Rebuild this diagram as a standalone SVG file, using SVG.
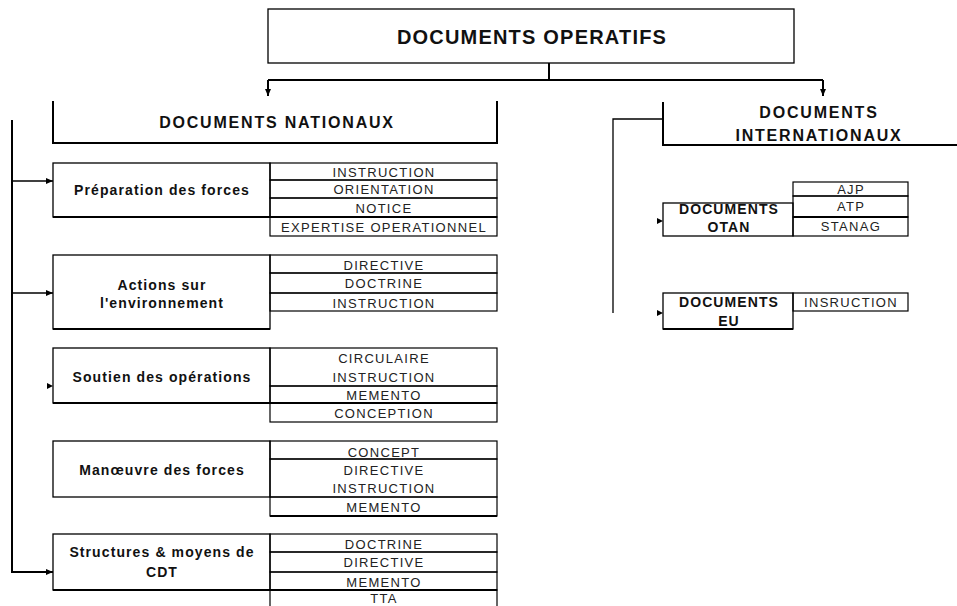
<svg xmlns="http://www.w3.org/2000/svg" width="957" height="606" viewBox="0 0 957 606">
<style>
.box{fill:#fff;stroke:#000;stroke-width:1.3}
.cell{fill:none;stroke:#000;stroke-width:1.2}
.thick{stroke:#000;stroke-width:2;fill:none}
.ln{stroke:#000;stroke-width:1.3;fill:none}
.lbl{font-family:"Liberation Sans",Arial,sans-serif;font-weight:bold;font-size:14px;letter-spacing:1.1px;text-anchor:middle;fill:#111}
.itm{font-family:"Liberation Sans",Arial,sans-serif;font-size:13px;letter-spacing:1.3px;text-anchor:middle;fill:#222}
.hd{font-family:"Liberation Sans",Arial,sans-serif;font-weight:bold;font-size:16px;letter-spacing:1.8px;text-anchor:middle;fill:#111}
.ttl{font-family:"Liberation Sans",Arial,sans-serif;font-weight:bold;font-size:20px;letter-spacing:1.2px;text-anchor:middle;fill:#111}
</style>
<defs>
<marker id="ah" markerWidth="8" markerHeight="8" refX="7" refY="4" orient="auto" markerUnits="userSpaceOnUse">
<path d="M0,1 L7,4 L0,7 Z" fill="#000"/>
</marker>
</defs>
<rect width="957" height="606" fill="#fff"/>

<g id="connectors">
<path class="thick" d="M549,63 V80"/>
<path class="thick" d="M268,80 H823"/>
<path class="thick" d="M268,80 V96" marker-end="url(#ah)"/>
<path class="thick" d="M823,80 V96" marker-end="url(#ah)"/>
<path class="thick" d="M12,120 V572 H53" marker-end="url(#ah)"/>
<path class="ln" d="M12,181 H53" marker-end="url(#ah)"/>
<path class="ln" d="M12,293 H53" marker-end="url(#ah)"/>
<path d="M47,383 L53,386 L47,389 Z" fill="#000"/>
<path class="ln" d="M613,313 V119 H663" stroke="#555"/>
<path d="M657,218 L663,221 L657,224 Z" fill="#000"/>
<path d="M657,310 L663,313 L657,316 Z" fill="#000"/>
</g>

<g id="documents-operatifs">
<rect class="box" x="268" y="9" width="526" height="54" stroke-width="1.6"/>
<text class="ttl" x="532" y="44">DOCUMENTS OPERATIFS</text>
</g>

<g id="documents-nationaux">
<path class="thick" d="M53,101 V143 H497 V101"/>
<text class="hd" x="277" y="128">DOCUMENTS NATIONAUX</text>
</g>

<g id="documents-internationaux">
<path class="thick" d="M663,102 V145 H957"/>
<text class="hd" x="819" y="118">DOCUMENTS</text>
<text class="hd" x="819" y="141">INTERNATIONAUX</text>
</g>

<g id="preparation-des-forces">
<rect class="box" x="53" y="163" width="217" height="54"/>
<rect class="cell" x="270" y="163" width="227" height="17"/>
<rect class="cell" x="270" y="180" width="227" height="18"/>
<rect class="cell" x="270" y="198" width="227" height="19"/>
<rect class="cell" x="270" y="217" width="227" height="19"/>
<path class="thick" d="M53,217 H497"/>
<text class="lbl" x="162" y="195">Préparation des forces</text>
<text class="itm" x="384" y="177">INSTRUCTION</text>
<text class="itm" x="384" y="194">ORIENTATION</text>
<text class="itm" x="384" y="213">NOTICE</text>
<text class="itm" x="384" y="232">EXPERTISE OPERATIONNEL</text>
</g>

<g id="actions-sur-environnement">
<rect class="box" x="53" y="255" width="217" height="74"/>
<path class="thick" d="M53,329 H270"/>
<rect class="cell" x="270" y="255" width="227" height="18"/>
<rect class="cell" x="270" y="273" width="227" height="20"/>
<rect class="cell" x="270" y="293" width="227" height="18"/>
<text class="lbl" x="162" y="290">Actions sur</text>
<text class="lbl" x="162" y="308">l'environnement</text>
<text class="itm" x="384" y="270">DIRECTIVE</text>
<text class="itm" x="384" y="288">DOCTRINE</text>
<text class="itm" x="384" y="308">INSTRUCTION</text>
</g>

<g id="soutien-des-operations">
<rect class="box" x="53" y="348" width="217" height="55"/>
<rect class="cell" x="270" y="348" width="227" height="38"/>
<rect class="cell" x="270" y="386" width="227" height="17"/>
<rect class="cell" x="270" y="403" width="227" height="19"/>
<path class="thick" d="M53,403 H497"/>
<text class="lbl" x="162" y="382">Soutien des opérations</text>
<text class="itm" x="384" y="363">CIRCULAIRE</text>
<text class="itm" x="384" y="382">INSTRUCTION</text>
<text class="itm" x="384" y="400">MEMENTO</text>
<text class="itm" x="384" y="418">CONCEPTION</text>
</g>

<g id="manoeuvre-des-forces">
<rect class="box" x="53" y="441" width="217" height="56"/>
<rect class="cell" x="270" y="441" width="227" height="18"/>
<rect class="cell" x="270" y="459" width="227" height="38"/>
<rect class="cell" x="270" y="497" width="227" height="19"/>
<path class="thick" d="M270,516 H497"/>
<text class="lbl" x="162" y="475">Manœuvre des forces</text>
<text class="itm" x="384" y="457">CONCEPT</text>
<text class="itm" x="384" y="475">DIRECTIVE</text>
<text class="itm" x="384" y="493">INSTRUCTION</text>
<text class="itm" x="384" y="512">MEMENTO</text>
</g>

<g id="structures-moyens-cdt">
<rect class="box" x="53" y="534" width="217" height="56"/>
<rect class="cell" x="270" y="534" width="227" height="18"/>
<rect class="cell" x="270" y="552" width="227" height="20"/>
<rect class="cell" x="270" y="572" width="227" height="18"/>
<rect class="cell" x="270" y="590" width="227" height="20"/>
<path class="thick" d="M53,590 H497"/>
<text class="lbl" x="162" y="557">Structures &amp; moyens de</text>
<text class="lbl" x="162" y="577">CDT</text>
<text class="itm" x="384" y="549">DOCTRINE</text>
<text class="itm" x="384" y="567">DIRECTIVE</text>
<text class="itm" x="384" y="587">MEMENTO</text>
<text class="itm" x="384" y="603">TTA</text>
</g>

<g id="documents-otan">
<rect class="box" x="663" y="203" width="130" height="33"/>
<rect class="cell" x="793" y="182" width="115" height="14"/>
<rect class="cell" x="793" y="196" width="115" height="21"/>
<rect class="cell" x="793" y="217" width="115" height="19"/>
<path class="thick" d="M793,217 H908"/>
<text class="lbl" x="729" y="214">DOCUMENTS</text>
<text class="lbl" x="729" y="232">OTAN</text>
<text class="itm" x="851" y="194">AJP</text>
<text class="itm" x="851" y="211">ATP</text>
<text class="itm" x="851" y="231">STANAG</text>
</g>

<g id="documents-eu">
<rect class="box" x="663" y="293" width="130" height="36"/>
<path class="thick" d="M663,329 H793"/>
<rect class="cell" x="793" y="293" width="115" height="18"/>
<text class="lbl" x="729" y="307">DOCUMENTS</text>
<text class="lbl" x="729" y="326">EU</text>
<text class="itm" x="851" y="307">INSRUCTION</text>
</g>
</svg>
